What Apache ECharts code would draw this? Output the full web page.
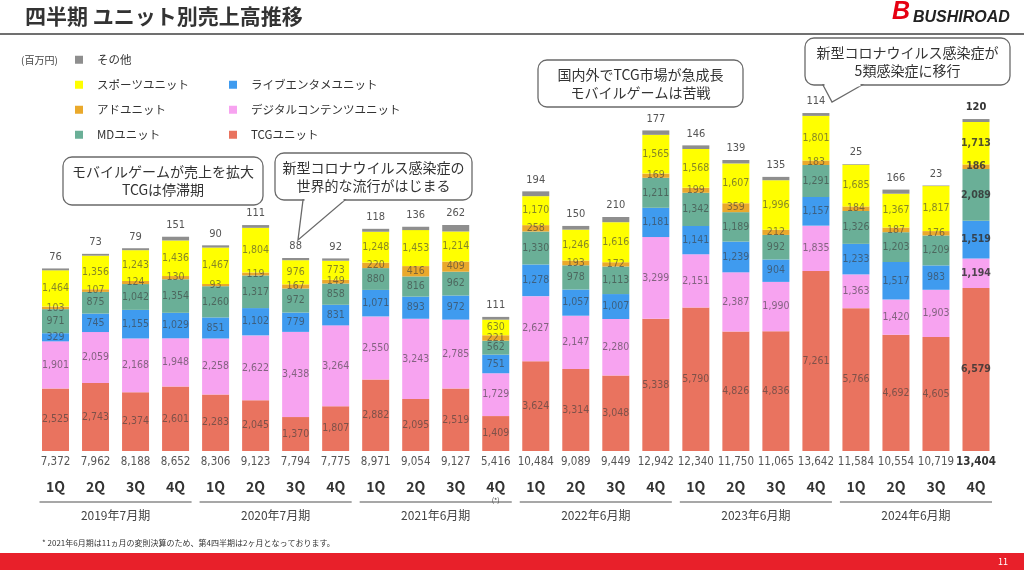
<!DOCTYPE html>
<html><head><meta charset="utf-8">
<script src="https://cdn.jsdelivr.net/npm/echarts@6/dist/echarts.min.js"></script>
<style>html,body{margin:0;padding:0;background:#fff}#c{width:1024px;height:570px}</style>
</head><body><div id="c"></div>
<script>
const quarters = ['1Q','2Q','3Q','4Q','1Q','2Q','3Q','4Q','1Q','2Q','3Q','4Q','1Q','2Q','3Q','4Q','1Q','2Q','3Q','4Q','1Q','2Q','3Q','4Q'];
const years = ['2019年7月期','2020年7月期','2021年6月期','2022年6月期','2023年6月期','2024年6月期'];
const tcg     = [2525,2743,2374,2601,2283,2045,1370,1807,2882,2095,2519,1409,3624,3314,3048,5338,5790,4826,4836,7261,5766,4692,4605,6579];
const digital = [1901,2059,2168,1948,2258,2622,3438,3264,2550,3243,2785,1729,2627,2147,2280,3299,2151,2387,1990,1835,1363,1420,1903,1194];
const live    = [329,745,1155,1029,851,1102,779,831,1071,893,972,751,1278,1057,1007,1181,1141,1239,904,1157,1233,1517,983,1519];
const md      = [971,875,1042,1354,1260,1317,972,858,880,816,962,562,1330,978,1113,1211,1342,1189,992,1291,1326,1203,1209,2089];
const ad      = [103,107,124,130,93,119,167,149,220,416,409,221,258,193,172,169,199,359,212,183,184,187,176,186];
const sports  = [1464,1356,1243,1436,1467,1804,976,773,1248,1453,1214,630,1170,1246,1616,1565,1568,1607,1996,1801,1685,1367,1817,1713];
const other   = [76,73,79,151,90,111,88,92,118,136,262,111,194,150,210,177,146,139,135,114,25,166,23,120];
const totals  = [7372,7962,8188,8652,8306,9123,7794,7775,8971,9054,9127,5416,10484,9089,9449,12942,12340,11750,11065,13642,11584,10554,10719,13404];

const NUMF = '"DejaVu Sans Condensed","DejaVu Sans",sans-serif';
const JPF = '"Noto Sans CJK JP",sans-serif';
const fmt = v => String(v).replace(/\B(?=(\d{3})+(?!\d))/g, ',');
const ids = quarters.map((q,i)=>String(i));
const last = quarters.length - 1;

function seg(name, arr, color){
  return {
    name, type:'bar', stack:'s', barWidth:27, xAxisIndex:0,
    itemStyle:{color},
    label:{show:true, position:'inside', fontFamily:NUMF, fontSize:10.5, color:'rgba(60,60,60,0.62)', formatter:p=>fmt(p.value)},
    data: arr.map((v,i)=> i===last ? {value:v, label:{fontWeight:'bold', color:'rgba(50,50,50,0.85)'}} : v)
  };
}

const chart = echarts.init(document.getElementById('c'), null, {renderer:'canvas'});
const legendText = {fontFamily:JPF, fontSize:11.5, color:'#333', padding:[0,0,0,9]};
const option = {
  animation:false,
  backgroundColor:'#fff',
  grid:{left:35.5, right:28, top:79.4, bottom:119},
  legend:[
    {left:75, top:54, orient:'vertical', padding:0, itemWidth:8, itemHeight:8, itemGap:13.5, icon:'rect',
     textStyle:legendText, data:['その他','スポーツユニット','アドユニット','MDユニット']},
    {left:229, top:79, orient:'vertical', padding:0, itemWidth:8, itemHeight:8, itemGap:13.5, icon:'rect',
     textStyle:legendText, data:['ライブエンタメユニット','デジタルコンテンツユニット','TCGユニット']}
  ],
  xAxis:[
    {type:'category', data:ids, gridIndex:0, axisLine:{show:false}, axisTick:{show:false},
     axisLabel:{interval:0, margin:4, fontFamily:NUMF, fontSize:11.5, color:'#555', lineHeight:14,
       formatter:(v,i)=> i===last ? '{b|'+fmt(totals[i])+'}' : fmt(totals[i]),
       rich:{b:{fontFamily:NUMF, fontSize:11.5, fontWeight:'bold', color:'#333'}}}},
    {type:'category', data:ids, gridIndex:0, position:'bottom', axisLine:{show:false}, axisTick:{show:false},
     axisLabel:{interval:0, margin:28, lineHeight:16,
       formatter:(v,i)=> '{q|'+quarters[i]+'}' + (i===11 ? '\n{s|(*)}' : ''),
       rich:{q:{fontFamily:JPF, fontSize:14, fontWeight:'bold', color:'#333', lineHeight:16},
             s:{fontFamily:JPF, fontSize:7, color:'#444', lineHeight:10}}}},
    {type:'category', data:years, gridIndex:0, position:'bottom', axisLine:{show:false}, axisTick:{show:false},
     axisLabel:{interval:0, margin:57, fontFamily:JPF, fontSize:12, color:'#444', lineHeight:14}}
  ],
  yAxis:{type:'value', min:0, max:15000, show:false},
  series:[
    seg('TCGユニット', tcg, '#E9735F'),
    seg('デジタルコンテンツユニット', digital, '#F7A3F0'),
    seg('ライブエンタメユニット', live, '#3F9BEF'),
    seg('MDユニット', md, '#6AAF97'),
    seg('アドユニット', ad, '#EAA92B'),
    seg('スポーツユニット', sports, '#FFFF00'),
    {name:'その他', type:'bar', stack:'s', barWidth:27, xAxisIndex:0, itemStyle:{color:'#8E8E8E'},
     label:{show:true, position:'top', distance:6, fontFamily:NUMF, fontSize:11, color:'#555', formatter:p=>fmt(p.value)},
     data: other.map((v,i)=> i===last ? {value:v, label:{fontWeight:'bold', color:'#333'}} : v)}
  ]
};
chart.setOption(option);

function callout(x, y, w, h, lines, tail){
  const els = [{type:'rect', shape:{x, y, width:w, height:h, r:9}, style:{fill:'#fff', stroke:'#6a6a6a', lineWidth:1.3}, z:10}];
  if (tail){
    els.push({type:'polygon', shape:{points:tail}, style:{fill:'#fff', stroke:'#6a6a6a', lineWidth:1.3}, z:11});
    els.push({type:'line', shape:{x1:tail[0][0]+1.5, y1:tail[0][1], x2:tail[2][0]-1.5, y2:tail[2][1]}, style:{stroke:'#fff', lineWidth:2.5}, z:12});
  }
  els.push({type:'text', x:x+w/2, y:y+h/2, z:13, style:{text:lines.join('\n'), fill:'#333', font:'14px '+JPF, align:'center', verticalAlign:'middle', lineHeight:18}});
  return els;
}

const graphics = [
  {type:'text', x:25, y:16, style:{text:'四半期 ユニット別売上高推移', fill:'#333', font:'bold 21px '+JPF, verticalAlign:'middle'}},
  {type:'line', shape:{x1:0, y1:34, x2:1024, y2:34}, style:{stroke:'#707070', lineWidth:2}},
  {type:'text', x:892, y:12, style:{text:'B', fill:'#E60012', font:'italic bold 25px "Liberation Sans",sans-serif', verticalAlign:'middle'}},
  {type:'text', x:913, y:18, style:{text:'BUSHIROAD', fill:'#222', font:'italic bold 16px "Liberation Sans",sans-serif', verticalAlign:'middle'}},
  {type:'text', x:21, y:60, style:{text:'(百万円)', fill:'#444', font:'10px '+JPF, verticalAlign:'middle'}},
  ...callout(63, 157, 200, 48, ['モバイルゲームが売上を拡大','TCGは停滞期']),
  ...callout(275, 153, 197, 47, ['新型コロナウイルス感染症の','世界的な流行がはじまる'], [[303,200],[298,240],[345,200]]),
  ...callout(538, 60, 205, 47, ['国内外でTCG市場が急成長','モバイルゲームは苦戦']),
  ...callout(805, 38, 205, 47, ['新型コロナウイルス感染症が','5類感染症に移行'], [[823,85],[832,102],[862,85]]),
  {type:'text', x:42, y:543, style:{text:'* 2021年6月期は11ヵ月の変則決算のため、第4四半期は2ヶ月となっております。', fill:'#333', font:'8px '+JPF, verticalAlign:'middle'}},
  {type:'rect', shape:{x:0, y:553, width:1024, height:17}, style:{fill:'#E8202A'}},
  {type:'text', x:1003, y:562, style:{text:'11', fill:'#fff', font:'9px '+JPF, align:'center', verticalAlign:'middle'}}
];
// year group lines under the quarter labels
for (let g = 0; g < years.length; g++){
  const a = chart.convertToPixel({xAxisIndex:0}, String(g*4));
  const b = chart.convertToPixel({xAxisIndex:0}, String(g*4+3));
  const half = (b - a) / 6;
  graphics.push({type:'line', shape:{x1:a - half + 4, y1:502, x2:b + half - 4, y2:502}, style:{stroke:'#8a8a8a', lineWidth:1.5}});
}
chart.setOption({graphic:graphics});
</script></body></html>
